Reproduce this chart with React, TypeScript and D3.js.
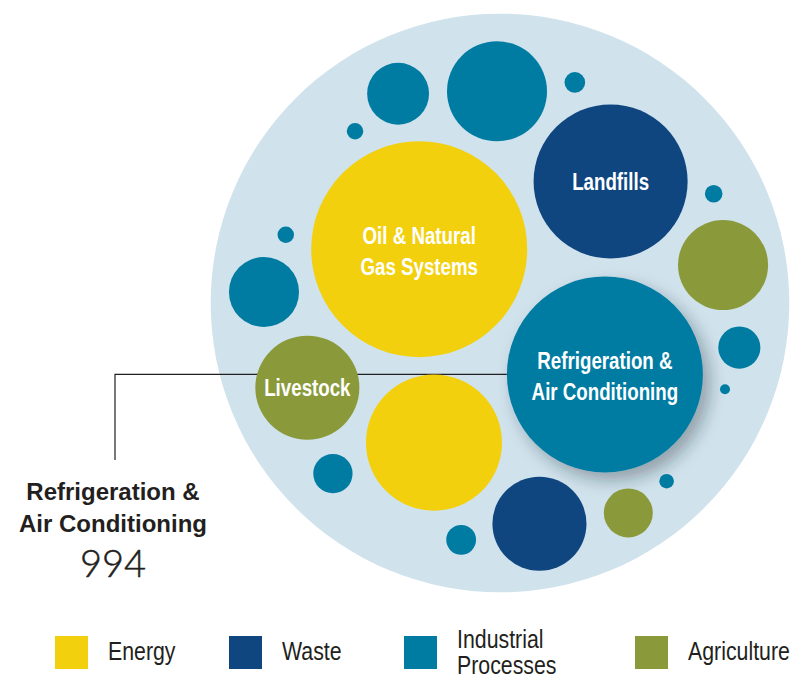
import { useEffect, useRef } from "react";
import * as d3 from "d3";

// bubble data, biggest first
const sources = [
  "Oil & Natural\nGas Systems", "Refrigeration &\nAir Conditioning", "Landfills", "", "Livestock",
  "", "", "", "", "", "", "", "", "", "", "", "", "", "", "",
];
const sectors = [
  "Energy", "Industrial Processes", "Waste", "Energy", "Agriculture",
  "Industrial Processes", "Waste", "Agriculture", "Industrial Processes", "Industrial Processes",
  "Agriculture", "Industrial Processes", "Industrial Processes", "Industrial Processes", "Industrial Processes",
  "Industrial Processes", "Industrial Processes", "Industrial Processes", "Industrial Processes", "Industrial Processes",
];
const values = [1207, 994, 614, 479, 280, 259, 229, 210, 127, 99, 62, 46, 40, 23, 11, 8, 7, 7, 5.5, 2.6];

const legendNames = ["Energy", "Waste", "Industrial Processes", "Agriculture"];
const legendColors = ["#F2D00E", "#0F4680", "#007CA3", "#8A9A3A"];

const highlighted = "Refrigeration &\nAir Conditioning";

const W = 804;
const H = 678;
const ROTATE = 34; // degrees, layout is mirrored then turned
const sans = "'Liberation Sans', Arial, sans-serif";

const App = () => {
  const svgRef: any = useRef<SVGSVGElement>(null);

  useEffect(() => {
    const svg = d3.select(svgRef.current);
    svg.selectAll("*").remove();

    const color = d3.scaleOrdinal<string, string>().domain(legendNames).range(legendColors);
    const rScale = d3.scaleSqrt().domain([0, 994]).range([0, 98]);

    const rows = values.map((v, i) => ({ name: sources[i], sector: sectors[i], value: v }));
    const root: any = d3.hierarchy({ children: rows } as any).sum((d: any) => d.value || 0);
    d3.pack().size([1000, 606]).padding(18).radius((d: any) => rScale(d.data.value))(root);

    const a = (ROTATE * Math.PI) / 180;
    const leaves = root.leaves();
    leaves.forEach((d: any) => {
      const dx = d.x - root.x;
      const dy = -(d.y - root.y);
      d.x = root.x + dx * Math.cos(a) - dy * Math.sin(a);
      d.y = root.y + dx * Math.sin(a) + dy * Math.cos(a);
    });

    const defs = svg.append("defs");
    defs.append("filter")
      .attr("id", "shadow")
      .attr("x", "-30%").attr("y", "-30%").attr("width", "170%").attr("height", "170%")
      .append("feDropShadow")
      .attr("dx", 7).attr("dy", 8).attr("stdDeviation", 8)
      .attr("flood-color", "#1a2a38").attr("flood-opacity", 0.35);

    svg.append("circle")
      .attr("cx", root.x).attr("cy", root.y).attr("r", root.r)
      .attr("fill", "#D0E2EC");

    const hi = leaves.find((d: any) => d.data.name === highlighted);

    // callout line
    const calloutX = 115;
    svg.append("path")
      .attr("d", `M${calloutX},460V${hi.y}H${hi.x - hi.r}`)
      .attr("fill", "none").attr("stroke", "#231F20").attr("stroke-width", 1.2);

    const g = svg.append("g");
    g.selectAll("circle")
      .data(leaves)
      .join("circle")
      .attr("cx", (d: any) => d.x)
      .attr("cy", (d: any) => d.y)
      .attr("r", (d: any) => d.r)
      .attr("fill", (d: any) => color(d.data.sector))
      .attr("filter", (d: any) => (d === hi ? "url(#shadow)" : null));

    const labels = g.selectAll("text")
      .data(leaves.filter((d: any) => d.data.name))
      .join("text")
      .attr("transform", (d: any) => `translate(${d.x},${d.y}) scale(0.78,1)`)
      .attr("text-anchor", "middle")
      .attr("fill", "#fff")
      .attr("font-family", sans)
      .attr("font-weight", 700)
      .attr("font-size", 24);
    labels.each(function (d: any) {
      const lines = d.data.name.split("\n");
      const t = d3.select(this);
      lines.forEach((l: string, i: number) => {
        t.append("tspan")
          .attr("x", 0)
          .attr("y", lines.length > 1 ? -5 + i * 31 : 8)
          .text(l);
      });
    });

    // callout text
    const ct = svg.append("text")
      .attr("text-anchor", "middle")
      .attr("fill", "#231F20")
      .attr("font-family", sans)
      .attr("font-weight", 700)
      .attr("font-size", 24);
    hi.data.name.split("\n").forEach((l: string, i: number) => {
      ct.append("tspan").attr("x", 113).attr("y", 500 + i * 32).text(l);
    });
    svg.append("text")
      .attr("x", 113).attr("y", 577)
      .attr("text-anchor", "middle")
      .attr("fill", "#231F20")
      .attr("stroke", "#231F20").attr("stroke-width", 0.5)
      .attr("font-family", "Lato, 'Liberation Sans', sans-serif")
      .attr("font-weight", 300)
      .attr("font-size", 38)
      .text(d3.format(",")(hi.data.value));

    // legend
    const legendX = [55, 229, 404, 635];
    const lg = svg.selectAll("g.legend")
      .data(legendNames)
      .join("g")
      .attr("class", "legend")
      .attr("transform", (_d, i) => `translate(${legendX[i]},636)`);
    lg.append("rect")
      .attr("width", 33).attr("height", 33)
      .attr("fill", (d) => color(d));
    lg.each(function (d) {
      const words = d.split(" ");
      const t = d3.select(this).append("text")
        .attr("transform", "translate(53,0) scale(0.82,1)")
        .attr("fill", "#231F20")
        .attr("font-family", sans)
        .attr("font-size", 26);
      words.forEach((w, i) => {
        t.append("tspan")
          .attr("x", 0)
          .attr("y", words.length > 1 ? 12 + i * 26 : 24)
          .text(w);
      });
    });
  }, []);

  return (
    <svg ref={svgRef} width={W} height={H} style={{ display: "block", position: "absolute", left: 0, top: 0 }} />
  );
};

export default App;
